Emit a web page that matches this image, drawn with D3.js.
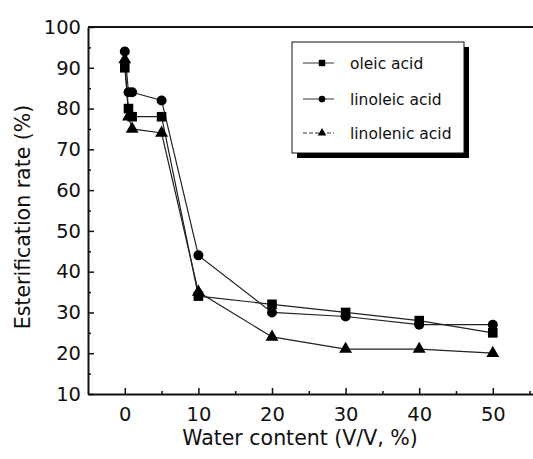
<!DOCTYPE html>
<html>
<head>
<meta charset="utf-8">
<script src="https://cdn.jsdelivr.net/npm/d3@7/dist/d3.min.js"></script>
<style>
  html, body { margin: 0; padding: 0; background: #fff; }
  svg { display: block; }
  text { font-family: "DejaVu Sans", Arial, sans-serif; fill: #111; }
</style>
</head>
<body>
<svg id="chart" width="533" height="459"></svg>
<script>
// ---- data ----
const waterContent = [0, 0.5, 1, 5, 10, 20, 30, 40, 50];
const oleic      = [90, 80, 78, 78, 34, 32, 30, 28, 25];
const linoleic   = [94, 84, 84, 82, 44, 30, 29, 27, 27];
const linolenic  = [92, 78, 75, 74, 35, 24, 21, 21, 20];
const seriesNames = ["oleic acid", "linoleic acid", "linolenic acid"];
const xTicks = [0, 10, 20, 30, 40, 50];
const xMinorTicks = [5, 15, 25, 35, 45, 55];
const yTicks = [10, 20, 30, 40, 50, 60, 70, 80, 90, 100];
const yMinorTicks = [15, 25, 35, 45, 55, 65, 75, 85, 95];

(function () {
const svg = d3.select("#chart");
const W = 533;
const mLeft = 88, mTop = 27, mBottom = 394;

const x = d3.scaleLinear().domain([-5, 60]).range([mLeft, mLeft + 65 * 7.36]);
const y = d3.scaleLinear().domain([10, 100]).range([mBottom, mTop]);

const series = [
  { name: seriesNames[0], values: oleic, shape: d3.symbolSquare, size: 92 },
  { name: seriesNames[1], values: linoleic, shape: d3.symbolCircle, size: 78 },
  { name: seriesNames[2], values: linolenic, shape: d3.symbolTriangle, size: 72 }
];

// top frame line
svg.append("line").attr("x1", mLeft).attr("x2", W).attr("y1", mTop).attr("y2", mTop)
  .attr("stroke", "#111").attr("stroke-width", 2);

// x axis
const gx = svg.append("g").attr("transform", `translate(0,${mBottom})`)
  .call(d3.axisBottom(x).tickValues(xTicks).tickSizeInner(-6).tickSizeOuter(0).tickPadding(13));
gx.select(".domain").attr("stroke", "#111").attr("stroke-width", 2);
gx.selectAll(".tick line").attr("stroke", "#111").attr("stroke-width", 1.5);
gx.selectAll(".tick text").attr("font-size", 19.5).attr("font-family", "DejaVu Sans, Arial, sans-serif").attr("fill", "#111");
const gxm = svg.append("g").attr("transform", `translate(0,${mBottom})`)
  .call(d3.axisBottom(x).tickValues(xMinorTicks).tickSizeInner(-3).tickSizeOuter(0).tickFormat(""));
gxm.select(".domain").remove();
gxm.selectAll(".tick line").attr("stroke", "#111").attr("stroke-width", 1.5);

// y axis
const gy = svg.append("g").attr("transform", `translate(${mLeft},0)`)
  .call(d3.axisLeft(y).tickValues(yTicks).tickSizeInner(-6).tickSizeOuter(0).tickPadding(7));
gy.select(".domain").attr("stroke", "#111").attr("stroke-width", 2);
gy.selectAll(".tick line").attr("stroke", "#111").attr("stroke-width", 1.5);
gy.selectAll(".tick text").attr("font-size", 19.5).attr("font-family", "DejaVu Sans, Arial, sans-serif").attr("fill", "#111");
const gym = svg.append("g").attr("transform", `translate(${mLeft},0)`)
  .call(d3.axisLeft(y).tickValues(yMinorTicks).tickSizeInner(-3).tickSizeOuter(0).tickFormat(""));
gym.select(".domain").remove();
gym.selectAll(".tick line").attr("stroke", "#111").attr("stroke-width", 1.5);

// axis titles
svg.append("text").attr("x", 300).attr("y", 445).attr("text-anchor", "middle")
  .attr("font-size", 20.5).text("Water content (V/V, %)");
svg.append("text").attr("transform", `translate(30,217) rotate(-90)`).attr("text-anchor", "middle")
  .attr("font-size", 20.5).text("Esterification rate (%)");

// lines and markers
const line = d3.line().x((d, i) => x(waterContent[i])).y(d => y(d));
series.forEach(s => {
  svg.append("path").datum(s.values).attr("d", line)
    .attr("fill", "none").attr("stroke", "#222").attr("stroke-width", 1.2);
});
series.forEach(s => {
  svg.append("g").selectAll("path").data(s.values).join("path")
    .attr("transform", (d, i) => `translate(${x(waterContent[i])},${y(d)})`)
    .attr("d", d3.symbol().type(s.shape).size(s.size))
    .attr("fill", "#000");
});

// legend
const lg = svg.append("g");
const lx = 292, ly = 42, lw = 172, lh = 111;
lg.append("rect").attr("x", lx + 5).attr("y", ly + 5).attr("width", lw).attr("height", lh).attr("fill", "#000");
lg.append("rect").attr("x", lx).attr("y", ly).attr("width", lw).attr("height", lh)
  .attr("fill", "#fff").attr("stroke", "#111").attr("stroke-width", 1);
const rowY = [63, 99, 133];
series.forEach((s, i) => {
  lg.append("line").attr("x1", 303).attr("x2", 334).attr("y1", rowY[i]).attr("y2", rowY[i])
    .attr("stroke", "#333").attr("stroke-width", 1).attr("stroke-dasharray", i === 2 ? "4,2" : null);
  lg.append("path").attr("transform", `translate(322,${rowY[i]})`)
    .attr("d", d3.symbol().type(s.shape).size(s.size * 0.45)).attr("fill", "#000");
  lg.append("text").attr("x", 350).attr("y", rowY[i] + 6).attr("font-size", 15.5).text(s.name);
});
})();
</script>
</body>
</html>
